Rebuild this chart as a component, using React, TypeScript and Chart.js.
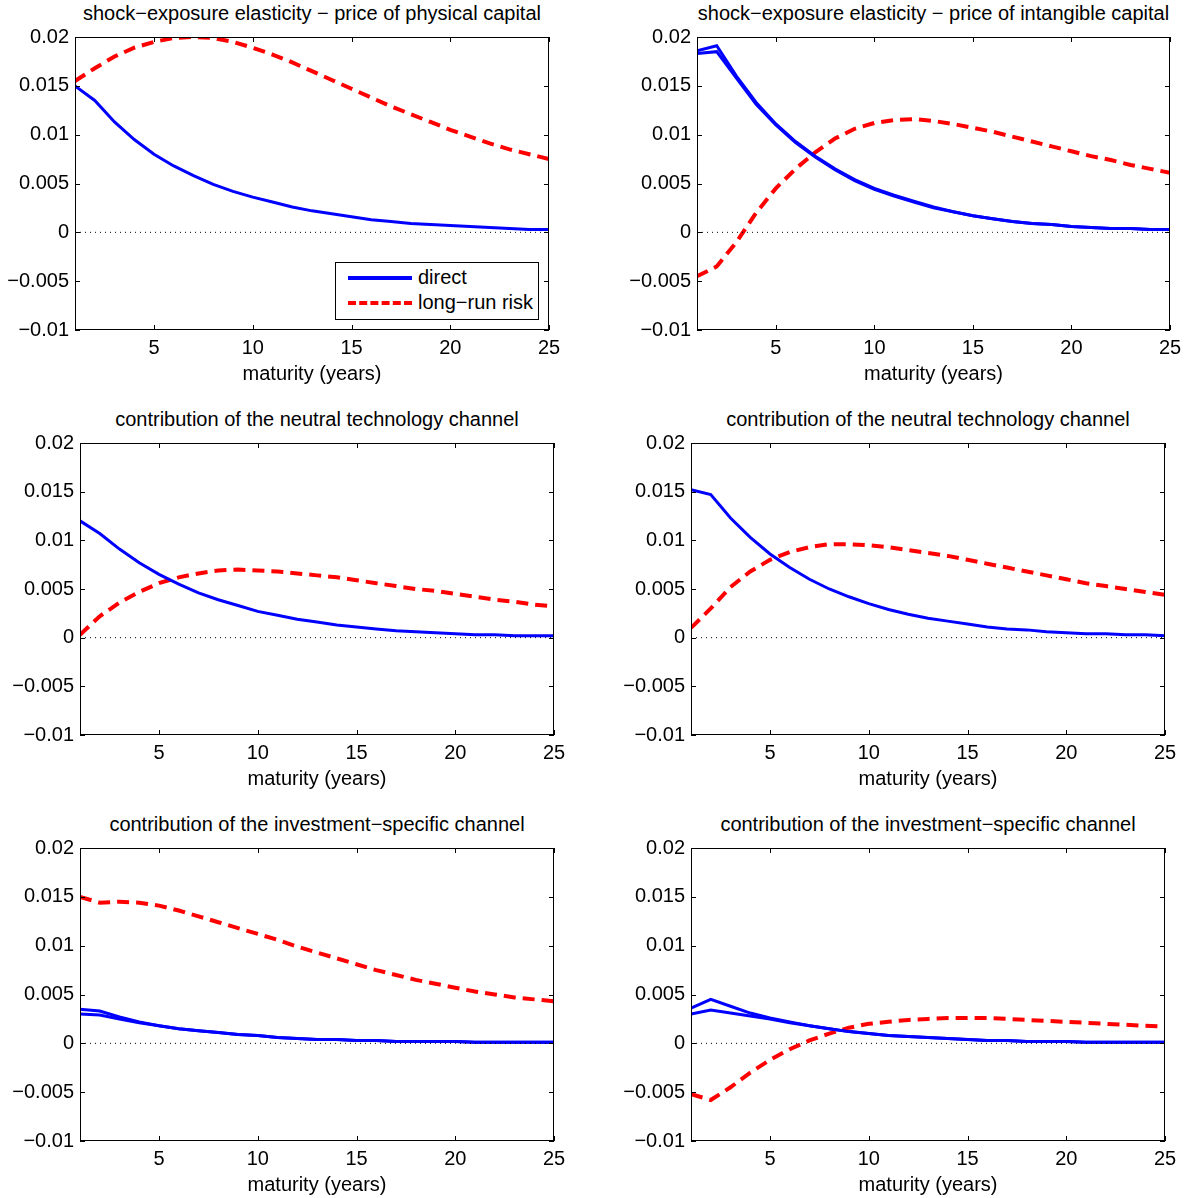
import React, { useEffect, useRef } from "react";
import { Chart, registerables } from "chart.js";
Chart.register(...registerables);

const maturity = Array.from({ length: 25 }, (_, i) => i + 1);
const xTicks = [5, 10, 15, 20, 25];
const zeroLine = maturity.map(() => 0);

const tlDirect = [0.015, 0.0135, 0.0113, 0.0095, 0.008, 0.0068, 0.0058, 0.0049, 0.0042, 0.0036, 0.0031, 0.0026, 0.0022, 0.0019, 0.0016, 0.0013, 0.0011, 0.0009, 0.0008, 0.0007, 0.0006, 0.0005, 0.0004, 0.0003, 0.0003];
const tlLrr = [0.0155, 0.0168, 0.018, 0.0189, 0.0195, 0.0199, 0.02, 0.0199, 0.0195, 0.0189, 0.0182, 0.0174, 0.0165, 0.0156, 0.0147, 0.0138, 0.0129, 0.0121, 0.0113, 0.0105, 0.0098, 0.0091, 0.0085, 0.008, 0.0075];
const trDirect = [0.0183, 0.0185, 0.0158, 0.0131, 0.011, 0.0092, 0.0077, 0.0064, 0.0053, 0.0044, 0.0037, 0.0031, 0.0025, 0.0021, 0.0017, 0.0014, 0.0011, 0.0009, 0.0008, 0.0006, 0.0005, 0.0004, 0.0004, 0.0003, 0.0003];
const trDirectB = [0.0186, 0.0191, 0.016, 0.0133, 0.0111, 0.0093, 0.0078, 0.0065, 0.0054, 0.0045, 0.0038, 0.0032, 0.0026, 0.0021, 0.0017, 0.0014, 0.0011, 0.0009, 0.0008, 0.0006, 0.0005, 0.0004, 0.0004, 0.0003, 0.0003];
const trLrr = [-0.0045, -0.0035, -0.001, 0.002, 0.0045, 0.0065, 0.0082, 0.0096, 0.0106, 0.0112, 0.0115, 0.0116, 0.0114, 0.0111, 0.0107, 0.0103, 0.0098, 0.0093, 0.0088, 0.0083, 0.0078, 0.0074, 0.0069, 0.0065, 0.0061];
const mlDirect = [0.012, 0.0107, 0.0091, 0.0077, 0.0065, 0.0055, 0.0046, 0.0039, 0.0033, 0.0027, 0.0023, 0.0019, 0.0016, 0.0013, 0.0011, 0.0009, 0.0007, 0.0006, 0.0005, 0.0004, 0.0003, 0.0003, 0.0002, 0.0002, 0.0002];
const mlLrr = [0.0003, 0.0022, 0.0036, 0.0047, 0.0056, 0.0062, 0.0066, 0.0069, 0.007, 0.0069, 0.0068, 0.0066, 0.0064, 0.0062, 0.0059, 0.0056, 0.0053, 0.005, 0.0048, 0.0045, 0.0042, 0.0039, 0.0037, 0.0034, 0.0032];
const mrDirect = [0.0152, 0.0147, 0.0123, 0.0103, 0.0086, 0.0072, 0.006, 0.005, 0.0042, 0.0035, 0.0029, 0.0024, 0.002, 0.0017, 0.0014, 0.0011, 0.0009, 0.0008, 0.0006, 0.0005, 0.0004, 0.0004, 0.0003, 0.0003, 0.0002];
const mrLrr = [0.001, 0.003, 0.0052, 0.0068, 0.008, 0.0088, 0.0093, 0.0096, 0.0096, 0.0095, 0.0093, 0.009, 0.0087, 0.0084, 0.008, 0.0076, 0.0072, 0.0068, 0.0064, 0.006, 0.0056, 0.0053, 0.005, 0.0047, 0.0044];
const blDirect = [0.003, 0.0029, 0.0025, 0.0021, 0.0018, 0.0015, 0.0013, 0.0011, 0.0009, 0.0008, 0.0006, 0.0005, 0.0004, 0.0004, 0.0003, 0.0003, 0.0002, 0.0002, 0.0002, 0.0002, 0.0001, 0.0001, 0.0001, 0.0001, 0.0001];
const blDirectB = [0.0035, 0.0033, 0.0027, 0.0022, 0.0018, 0.0015, 0.0013, 0.0011, 0.0009, 0.0008, 0.0006, 0.0005, 0.0004, 0.0004, 0.0003, 0.0003, 0.0002, 0.0002, 0.0002, 0.0002, 0.0001, 0.0001, 0.0001, 0.0001, 0.0001];
const blLrr = [0.015, 0.0144, 0.0145, 0.0144, 0.0141, 0.0136, 0.013, 0.0124, 0.0118, 0.0112, 0.0106, 0.0099, 0.0093, 0.0087, 0.0081, 0.0075, 0.007, 0.0065, 0.0061, 0.0057, 0.0053, 0.005, 0.0047, 0.0045, 0.0043];
const brDirect = [0.003, 0.0034, 0.0031, 0.0028, 0.0025, 0.0021, 0.0018, 0.0015, 0.0012, 0.001, 0.0008, 0.0007, 0.0006, 0.0005, 0.0004, 0.0003, 0.0003, 0.0002, 0.0002, 0.0002, 0.0001, 0.0001, 0.0001, 0.0001, 0.0001];
const brDirectB = [0.0036, 0.0045, 0.0038, 0.0031, 0.0026, 0.0022, 0.0018, 0.0015, 0.0012, 0.001, 0.0008, 0.0007, 0.0006, 0.0005, 0.0004, 0.0003, 0.0003, 0.0002, 0.0002, 0.0002, 0.0001, 0.0001, 0.0001, 0.0001, 0.0001];
const brLrr = [-0.0052, -0.0058, -0.0045, -0.003, -0.0017, -0.0006, 0.0003, 0.001, 0.0016, 0.002, 0.0022, 0.0024, 0.0025, 0.0026, 0.0026, 0.0026, 0.0025, 0.0024, 0.0023, 0.0022, 0.0021, 0.002, 0.0019, 0.0018, 0.0017];

const FONT = "'Liberation Sans', Arial, sans-serif";
const FS = 20;

type Panel = { title: string; direct: number[][]; lrr: number[]; l: number; r: number; t: number; b: number; legend?: boolean };
const panels: Panel[] = [
  { title: "shock\u2212exposure elasticity \u2212 price of physical capital", direct: [tlDirect], lrr: tlLrr, l: 75, r: 549, t: 37, b: 330, legend: true },
  { title: "shock\u2212exposure elasticity \u2212 price of intangible capital", direct: [trDirect, trDirectB], lrr: trLrr, l: 697, r: 1170, t: 37, b: 330 },
  { title: "contribution of the neutral technology channel", direct: [mlDirect], lrr: mlLrr, l: 80, r: 554, t: 443, b: 735 },
  { title: "contribution of the neutral technology channel", direct: [mrDirect], lrr: mrLrr, l: 691, r: 1165, t: 443, b: 735 },
  { title: "contribution of the investment\u2212specific channel", direct: [blDirect, blDirectB], lrr: blLrr, l: 80, r: 554, t: 848, b: 1141 },
  { title: "contribution of the investment\u2212specific channel", direct: [brDirect, brDirectB], lrr: brLrr, l: 691, r: 1165, t: 848, b: 1141 },
];

const boxPlugin = {
  id: "box",
  afterDatasetsDraw(chart: any) {
    const { ctx, chartArea: a, scales } = chart;
    ctx.save();
    ctx.strokeStyle = "#000";
    ctx.lineWidth = 1;
    ctx.strokeRect(a.left + 0.5, a.top + 0.5, a.right - a.left - 1, a.bottom - a.top - 1);
    ctx.beginPath();
    for (const v of xTicks) {
      const x = Math.round(scales.x.getPixelForValue(v)) + 0.5;
      ctx.moveTo(x, a.bottom); ctx.lineTo(x, a.bottom - 5);
      ctx.moveTo(x, a.top); ctx.lineTo(x, a.top + 5);
    }
    for (let v = -0.01; v <= 0.0201; v += 0.005) {
      const y = Math.round(scales.y.getPixelForValue(v)) + 0.5;
      ctx.moveTo(a.left, y); ctx.lineTo(a.left + 5, y);
      ctx.moveTo(a.right, y); ctx.lineTo(a.right - 5, y);
    }
    ctx.stroke();
    ctx.restore();
  },
};

function fmt(v: number) {
  const r = Math.round(v * 1000) / 1000;
  if (Math.abs(r) < 1e-9) return "0";
  const s = String(Math.abs(r));
  return (r < 0 ? "\u2212" : "") + s;
}

function PanelChart({ p }: { p: Panel }) {
  const ref = useRef<HTMLCanvasElement>(null);
  const cl = p.l - 80, ct = p.t - 18;
  const w = p.r - p.l + 80 + 20, h = p.b - p.t + 18 + 56;
  useEffect(() => {
    const datasets: any[] = [
      { data: zeroLine, borderColor: "#000", borderWidth: 1, borderDash: [1, 4], pointRadius: 0 },
      ...p.direct.map((d) => ({ data: d, borderColor: "#0000ff", borderWidth: 3, pointRadius: 0, tension: 0 })),
      { data: p.lrr, borderColor: "#ff0000", borderWidth: 4, borderDash: [12, 7], pointRadius: 0, tension: 0 },
    ];
    const chart = new Chart(ref.current!, {
      type: "line",
      data: { labels: maturity, datasets },
      plugins: [boxPlugin],
      options: {
        animation: false,
        responsive: false,
        layout: { padding: { top: 15, right: 20, left: 0, bottom: 0 } },
        plugins: { legend: { display: false }, tooltip: { enabled: false }, title: { display: false } },
        scales: {
          x: {
            type: "linear", min: 1, max: 25,
            grid: { display: false, tickLength: 0 }, border: { display: false },
            afterBuildTicks: (s: any) => { s.ticks = xTicks.map((v) => ({ value: v })); },
            afterFit: (s: any) => { s.height = 56; },
            ticks: { color: "#000", font: { family: FONT, size: FS }, padding: 6, maxRotation: 0, autoSkip: false },
            title: { display: true, text: "maturity (years)", color: "#000", font: { family: FONT, size: FS }, padding: { top: 0, bottom: 0 } },
          },
          y: {
            min: -0.01, max: 0.02,
            grid: { display: false, tickLength: 0 }, border: { display: false },
            afterFit: (s: any) => { s.width = 80; },
            ticks: { stepSize: 0.005, color: "#000", font: { family: FONT, size: FS }, padding: 6, callback: (v: any) => fmt(Number(v)) },
          },
        },
      } as any,
    });
    return () => chart.destroy();
  }, []);
  return (
    <>
      <div style={{ position: "absolute", left: p.l - 40, width: p.r - p.l + 80, top: p.t - 35, textAlign: "center", font: `${FS}px ${FONT}`, color: "#000", whiteSpace: "nowrap" }}>{p.title}</div>
      <canvas ref={ref} width={w} height={h} style={{ position: "absolute", left: cl, top: ct, width: w, height: h }} />
      {p.legend && (
        <div style={{ position: "absolute", left: 335, top: 262, width: 202, height: 56, border: "1px solid #000", background: "#fff", font: `${FS}px ${FONT}` }}>
          <div style={{ position: "absolute", left: 12, top: 13, width: 64, height: 4, background: "#0000ff" }} />
          <div style={{ position: "absolute", left: 82, top: 3 }}>direct</div>
          <div style={{ position: "absolute", left: 12, top: 38, width: 64, height: 0, borderTop: "4px dashed #ff0000" }} />
          <div style={{ position: "absolute", left: 82, top: 28 }}>long{"\u2212"}run risk</div>
        </div>
      )}
    </>
  );
}

export default function App() {
  useEffect(() => { document.body.style.margin = "0"; }, []);
  return (
    <div style={{ position: "relative", width: 1188, height: 1198, background: "#fff" }}>
      {panels.map((p, i) => <PanelChart key={i} p={p} />)}
    </div>
  );
}
